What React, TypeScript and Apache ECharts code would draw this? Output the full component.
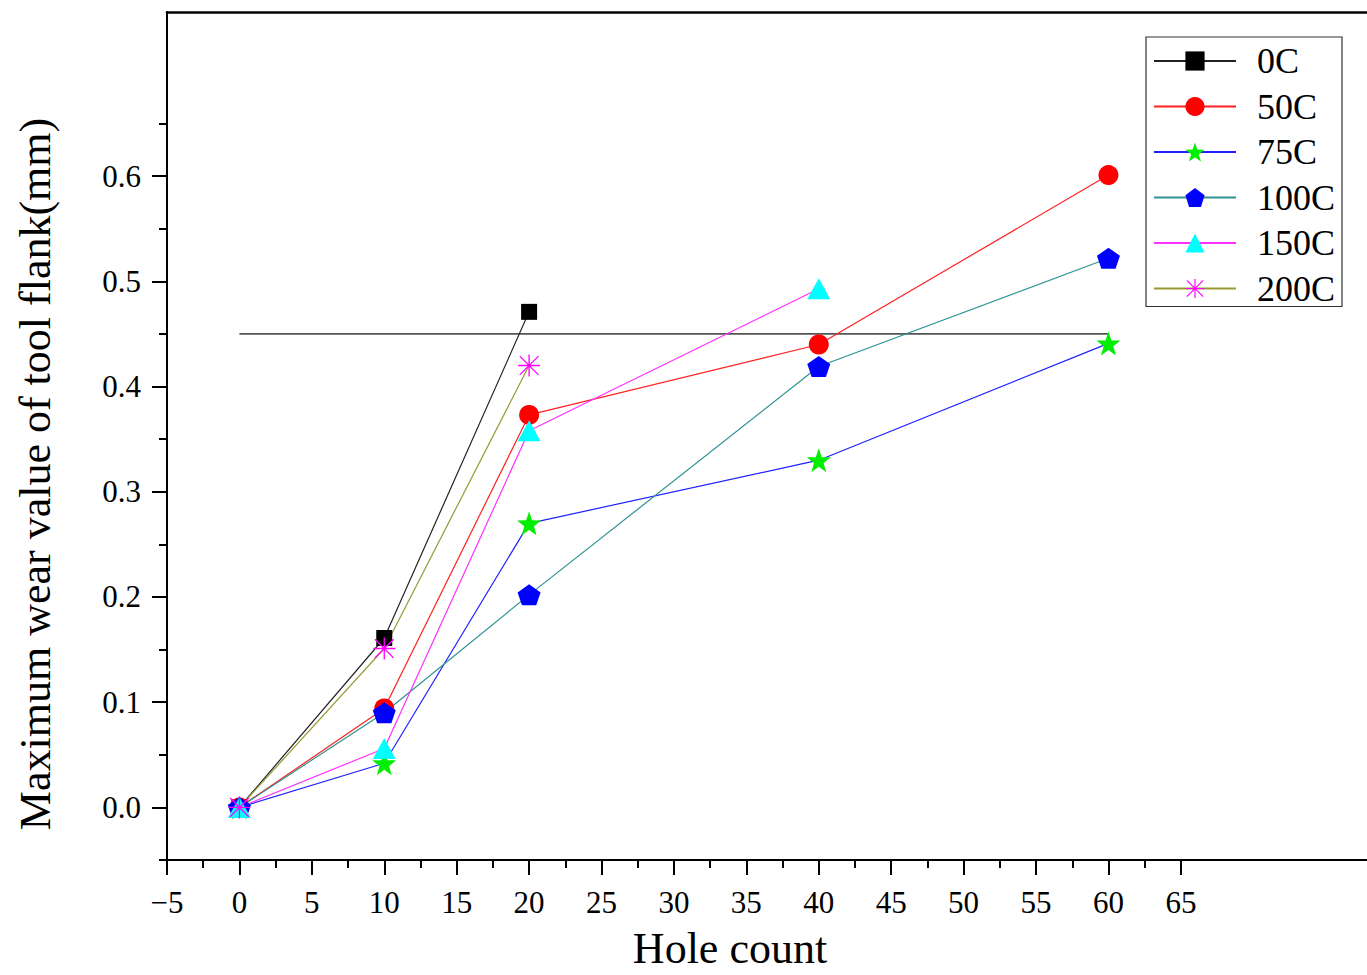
import React, { useEffect, useRef } from "react";
import * as echarts from "echarts";

// ---- data ----
const holeCounts = [0, 10, 20, 40, 60];
const wear0C = [0, 0.161, 0.471];
const wear50C = [0, 0.094, 0.373, 0.44, 0.601];
const wear75C = [0, 0.042, 0.27, 0.33, 0.441];
const wear100C = [0, 0.09, 0.202, 0.419, 0.522];
const wear150C = [0, 0.056, 0.358, 0.493];
const wear200C = [0, 0.151, 0.42];
const limitX = [0, 60];
const limitValue = 0.45;

const seriesNames = ["0C", "50C", "75C", "100C", "150C", "200C"];

const xMajorTicks = [-5, 0, 5, 10, 15, 20, 25, 30, 35, 40, 45, 50, 55, 60, 65];
const xMinorTicks = [-2.5, 2.5, 7.5, 12.5, 17.5, 22.5, 27.5, 32.5, 37.5, 42.5, 47.5, 52.5, 57.5, 62.5];
const yMajorTicks = [0, 0.1, 0.2, 0.3, 0.4, 0.5, 0.6];
const yMinorTicks = [-0.05, 0.05, 0.15, 0.25, 0.35, 0.45, 0.55, 0.65];

const FONT = "'Liberation Serif', 'Times New Roman', serif";

const STAR =
  "path://M10 0 L12.35 6.76 L19.51 6.91 L13.8 11.24 L15.88 18.09 L10 14 L4.12 18.09 L6.2 11.24 L0.49 6.91 L7.65 6.76 Z";
const PENTAGON = "path://M10 0 L19.51 6.91 L15.88 18.09 L4.12 18.09 L0.49 6.91 Z";
const ASTERISK =
  "path://M9.4 0 L10.6 0 L10.6 20 L9.4 20 Z M0 9.4 L20 9.4 L20 10.6 L0 10.6 Z M1.08 1.92 L1.92 1.08 L18.92 18.08 L18.08 18.92 Z M18.08 1.08 L18.92 1.92 L1.92 18.92 L1.08 18.08 Z";

const pairs = (ys: number[]) => ys.map((y, i) => [holeCounts[i], y]);

export default function App() {
  const ref = useRef<HTMLDivElement>(null);
  useEffect(() => {
    if (!ref.current) return;
    const chart = echarts.init(ref.current, null, { renderer: "svg" });
    const xMin = -5;
    const xMax = 77.85;
    const yMin = -0.05;
    const yMax = 0.756;
    const black = "#000";
    const lineSeries = (
      name: string,
      ys: number[],
      lineColor: string,
      symbol: string,
      symbolSize: number | number[],
      markerColor: string
    ) => ({
      name,
      type: "line",
      data: pairs(ys),
      symbol,
      symbolSize,
      showAllSymbol: true,
      lineStyle: { color: lineColor, width: 1.2 },
      itemStyle: { color: markerColor },
      z: 3,
    });
    chart.setOption({
      animation: false,
      backgroundColor: "#fff",
      grid: { left: 167, top: 12, right: 0, bottom: 110, containLabel: false },
      legend: {
        data: seriesNames,
        orient: "vertical",
        left: 1146,
        top: 37,
        itemWidth: 82,
        itemHeight: 24,
        itemGap: 9.5,
        padding: [6, 7, 0, 7],
        borderColor: "#333",
        borderWidth: 1.2,
        backgroundColor: "#fff",
        textStyle: {
          fontSize: 36,
          fontFamily: FONT,
          color: black,
          lineHeight: 36,
          padding: [0, 0, 0, 16],
        },
      },
      xAxis: [
        {
          type: "value",
          min: xMin,
          max: xMax,
          position: "bottom",
          name: "Hole count",
          nameLocation: "middle",
          nameGap: 66,
          nameTextStyle: { fontSize: 44, fontFamily: FONT, color: black, padding: [0, 74, 0, 0] },
          axisLine: { show: true, onZero: false, lineStyle: { color: black, width: 2 } },
          axisTick: { show: true, length: 15, customValues: xMajorTicks, lineStyle: { color: black, width: 2 } },
          axisLabel: {
            customValues: xMajorTicks,
            fontSize: 31,
            fontFamily: FONT,
            color: black,
            margin: 27,
            formatter: (v: number) => (v < 0 ? "\u2212" + Math.abs(v) : String(v)),
          },
          splitLine: { show: false },
        },
        {
          type: "value",
          min: xMin,
          max: xMax,
          position: "bottom",
          axisLine: { show: false, onZero: false },
          axisTick: { show: true, length: 8, customValues: xMinorTicks, lineStyle: { color: black, width: 2 } },
          axisLabel: { show: false },
          splitLine: { show: false },
        },
        {
          type: "value",
          min: xMin,
          max: xMax,
          position: "top",
          axisLine: { show: true, onZero: false, lineStyle: { color: black, width: 2.5 } },
          axisTick: { show: false },
          axisLabel: { show: false },
          splitLine: { show: false },
        },
      ],
      yAxis: [
        {
          type: "value",
          min: yMin,
          max: yMax,
          position: "left",
          name: "Maximum wear value of tool flank(mm)",
          nameLocation: "middle",
          nameGap: 110,
          nameTextStyle: { fontSize: 44, fontFamily: FONT, color: black, padding: [0, 76, 0, 0] },
          axisLine: { show: true, onZero: false, lineStyle: { color: black, width: 2 } },
          axisTick: { show: true, length: 15, customValues: yMajorTicks, lineStyle: { color: black, width: 2 } },
          axisLabel: {
            customValues: yMajorTicks,
            fontSize: 31,
            fontFamily: FONT,
            color: black,
            margin: 26,
            formatter: (v: number) => v.toFixed(1),
          },
          splitLine: { show: false },
        },
        {
          type: "value",
          min: yMin,
          max: yMax,
          position: "left",
          axisLine: { show: false, onZero: false },
          axisTick: { show: true, length: 8, customValues: yMinorTicks, lineStyle: { color: black, width: 2 } },
          axisLabel: { show: false },
          splitLine: { show: false },
        },
      ],
      series: [
        {
          name: "limit",
          type: "line",
          data: limitX.map((x) => [x, limitValue]),
          symbol: "none",
          lineStyle: { color: "#555", width: 1.8 },
          z: 2,
        },
        lineSeries("0C", wear0C, "#222", "rect", 16, "#000"),
        lineSeries("50C", wear50C, "#ff2020", "circle", 20, "#ff0000"),
        lineSeries("75C", wear75C, "#2020ff", STAR, 24, "#00ee00"),
        lineSeries("100C", wear100C, "#2e9292", PENTAGON, [23, 21], "#0000ff"),
        lineSeries("150C", wear150C, "#ff30ff", "triangle", [23, 21], "#00ffff"),
        lineSeries("200C", wear200C, "#999933", ASTERISK, 22, "#ff00ff"),
      ],
    });
    return () => chart.dispose();
  }, []);
  return (
    <div
      ref={ref}
      style={{ position: "absolute", left: 0, top: 0, width: 1367, height: 975, background: "#fff" }}
    />
  );
}
